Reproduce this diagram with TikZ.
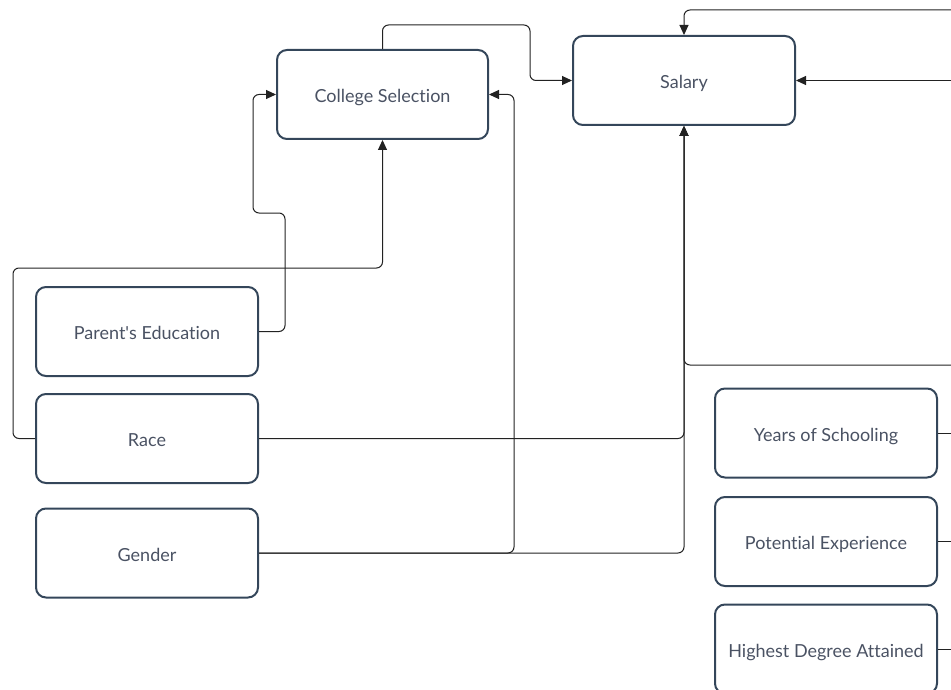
\documentclass[tikz,border=0pt]{standalone}
\usepackage{fontspec}
\setmainfont{Lato}[Ligatures={NoCommon}]
\usetikzlibrary{arrows.meta,positioning}
\definecolor{boxline}{HTML}{34465A}
\definecolor{boxtext}{HTML}{4A5263}
\definecolor{wire}{HTML}{222222}

\begin{document}
\begin{tikzpicture}[x=1pt,y=-1pt,
  factor/.style={draw=boxline, line width=2pt, rounded corners=10pt,
    minimum width=222pt, minimum height=89pt, inner sep=0pt,
    text height=18pt, text depth=2pt,
    text=boxtext, font=\fontsize{18}{20}\selectfont},
  link/.style={draw=wire, line width=1pt, rounded corners=6pt},
  arr/.style={-{Triangle[length=10pt,width=9pt]}}]
  \useasboundingbox (0,0) rectangle (951,690);

  % boxes
  \node[factor, minimum width=211pt] (cs) at (382.5,94.5) {College Selection};
  \node[factor] (salary) at (684,80.5) {Salary};
  \node[factor] (pe) at (147,331.5) {Parent\textquotesingle s Education};
  \node[factor] (race) at (147,438.5) {Race};
  \node[factor] (gender) at (147,553) {Gender};
  \node[factor] (ys) at (826,433) {Years of Schooling};
  \node[factor] (potexp) at (826,541.5) {Potential Experience};
  \node[factor] (hd) at (826,649) {Highest Degree Attained};

  % loose ends at the right edge
  \coordinate (topin) at (951,10);
  \coordinate (sidein) at (951,80.5);
  \coordinate (midin) at (951,365);
  \coordinate (ysout) at (951,433);
  \coordinate (peout) at (951,541.5);
  \coordinate (hdout) at (951,649);

  % connectors
  \draw[link,arr] (cs.north) -- ++(0,-24) -| ([xshift=-42pt]salary.west) -- (salary.west);
  \draw[link,arr] (pe.east) -| (285,213) -| ([xshift=-23pt]cs.west) -- (cs.west);
  \draw[link,arr] (race.west) -| (13,268) -| (cs.south);
  \draw[link,arr] (race.east) -| (salary.south);
  \draw[link,arr] (gender.east) -| (salary.south);
  \draw[link,arr] (gender.east) -| ([xshift=25pt]cs.east) -- (cs.east);
  \draw[link,arr] (midin) -| (salary.south);
  \draw[link,arr] (topin) -| (salary.north);
  \draw[link,arr] (sidein) -- (salary.east);
  \draw[link] (ys.east) -- (ysout);
  \draw[link] (potexp.east) -- (peout);
  \draw[link] (hd.east) -- (hdout);
\end{tikzpicture}
\end{document}
